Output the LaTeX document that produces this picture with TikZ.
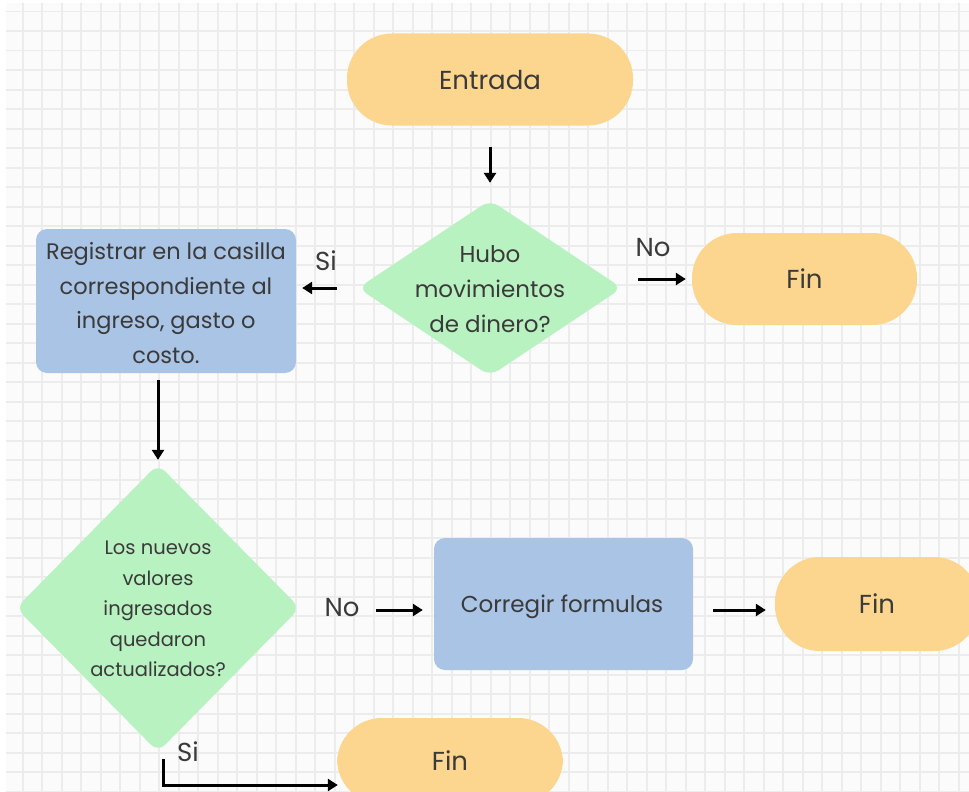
\documentclass[tikz,border=0pt]{standalone}
\usepackage{fontspec}
\setmainfont{Poppins}
\usetikzlibrary{arrows.meta,calc,shapes.geometric}
\definecolor{orangef}{HTML}{FCD58E}
\definecolor{greenf}{HTML}{B9F2C1}
\definecolor{bluef}{HTML}{A9C4E4}
\definecolor{gridc}{HTML}{ECECEC}
\definecolor{bgc}{HTML}{FBFBFB}
\definecolor{txt}{HTML}{3A3A3A}
\begin{document}
\begin{tikzpicture}[x=1pt,y=-1pt,
  terminal/.style={rectangle, rounded corners=45pt, fill=orangef, inner sep=0pt,
    minimum height=92pt, text=txt, font=\fontsize{26}{30}\selectfont},
  process/.style={rectangle, rounded corners=11pt, fill=bluef, inner sep=0pt, text=txt},
  decision/.style={diamond, rounded corners=10pt, fill=greenf, inner sep=0pt},
  dtext/.style={align=center, text=txt, inner sep=0pt},
  lbl/.style={text=txt, font=\fontsize{26}{30}\selectfont, inner sep=0pt},
  arr/.style={line width=3pt, black, -{Triangle[length=10pt,width=12pt]}}]
\useasboundingbox (0,0) rectangle (969,792);
\begin{scope}
\clip (0,0) rectangle (969,792);
\fill[white] (0,0) rectangle (969,792);
\fill[bgc] (6,3) rectangle (969,791);
\foreach \i in {0,...,48} \draw[gridc, line width=1.6pt] (22.7+19.5*\i,3) -- (22.7+19.5*\i,791);
\foreach \j in {0,...,40} \draw[gridc, line width=1.6pt] (6,11.7+19.5*\j) -- (969,11.7+19.5*\j);

% nodes
\node[terminal, minimum width=286pt] (entrada) at (490,79.5) {Entrada};
\node[decision, minimum width=264pt, minimum height=176pt] (d1) at (490,288) {};
\node[dtext, font=\fontsize{23}{35}\selectfont] (d1t) at (490,289) {Hubo\\movimientos\\de dinero?};
\node[terminal, minimum width=225pt] (fin1) at (804.5,279) {Fin};
\node[process, minimum width=260pt, minimum height=144pt] (box1) at (166,301) {};
\node[dtext, font=\fontsize{22.5}{34.5}\selectfont] (box1t) at (166,303) {Registrar en la casilla\\correspondiente al\\ingreso, gasto o\\costo.};
\node[decision, minimum width=284pt, minimum height=288pt] (d2) at (158,608) {};
\node[dtext, font=\fontsize{19.5}{30.5}\selectfont] (d2t) at (158,609) {Los nuevos\\valores\\ingresados\\quedaron\\actualizados?};
\node[process, minimum width=259pt, minimum height=132pt] (box2) at (563.5,604) {};
\node[dtext, font=\fontsize{23}{28}\selectfont] (box2t) at (562,607) {Corregir formulas};
\node[terminal, minimum width=204pt, minimum height=94pt] (fin2) at (877,604) {Fin};
\node[terminal, minimum width=226pt, minimum height=86pt] (fin3) at (450,761) {Fin};

% labels
\node[lbl] (si1) at (326,261) {Si};
\node[lbl] (no1) at (653,248) {No};
\node[lbl] (no2) at (342,608) {No};
\node[lbl] (si2) at (188,752) {Si};

% connectors
\draw[arr, shorten <=21pt, shorten >=17pt] (entrada.south) -- (d1.north);
\draw[arr, shorten <=21pt, shorten >=6pt] (d1.west) -- (d1.west -| box1.east);
\draw[arr, shorten <=16pt, shorten >=6pt] (fin1.west -| d1.east) -- (fin1.west);
\draw[arr, shorten <=7pt, shorten >=4pt] (d2.north |- box1.south) -- (d2.north);
\draw[arr, shorten <=76pt, shorten >=11pt] ($(d2.east)+(0,2)$) -- ($(d2.east -| box2.west)+(0,2)$);
\draw[arr, shorten <=20pt, shorten >=9pt] ($(box2.east)+(0,6)$) -- ($(fin2.west)+(0,6)$);
\coordinate (sistart) at ($(d2.south)+(5,7)$);
\draw[arr] (sistart) |- ($(fin3.west)+(1,24)$);
\end{scope}
\end{tikzpicture}
\end{document}
